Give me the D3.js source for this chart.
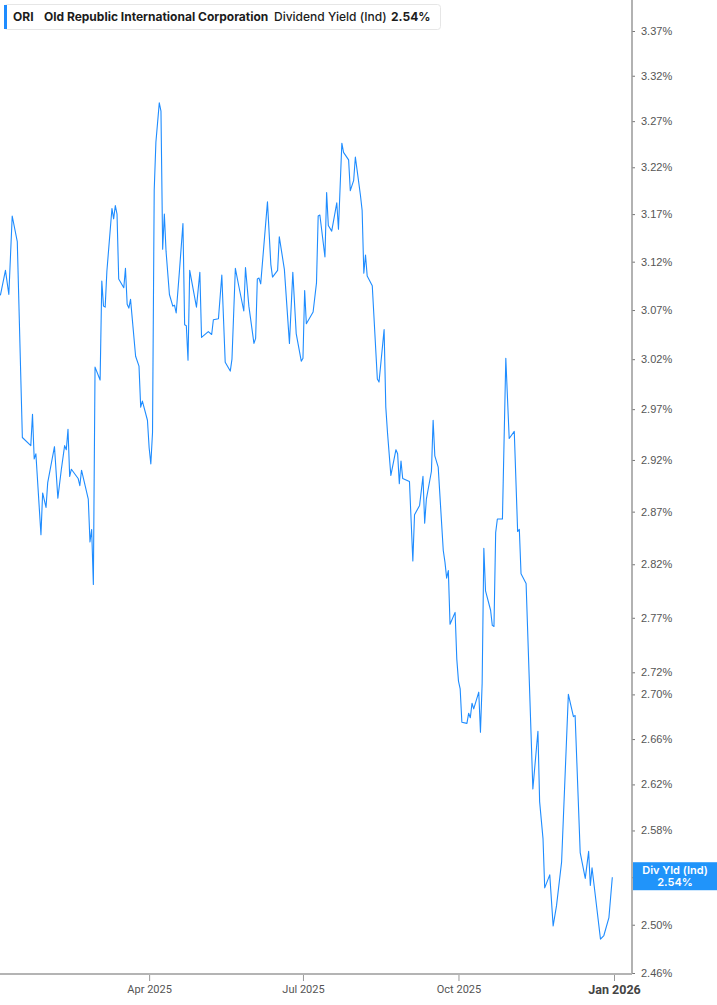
<!DOCTYPE html>
<html>
<head>
<meta charset="utf-8">
<script src="https://cdn.jsdelivr.net/npm/d3@7"></script>
<style>
  body { margin: 0; background: #fff; }
  svg { display: block; }
</style>
</head>
<body>
<div id="chart"></div>
<script>
// Dividend yield readings (trading-day turning points)
const dates = [
  "2025-01-03","2025-01-06","2025-01-08","2025-01-10","2025-01-13","2025-01-16","2025-01-21","2025-01-22","2025-01-23","2025-01-24",
  "2025-01-27","2025-01-28","2025-01-30","2025-01-31","2025-02-04","2025-02-06","2025-02-08","2025-02-10","2025-02-11","2025-02-12",
  "2025-02-13","2025-02-14","2025-02-18","2025-02-19","2025-02-20","2025-02-24","2025-02-25","2025-02-26","2025-02-27","2025-02-28",
  "2025-03-03","2025-03-04","2025-03-05","2025-03-06","2025-03-07","2025-03-10","2025-03-11","2025-03-12","2025-03-13","2025-03-14",
  "2025-03-17","2025-03-18","2025-03-19","2025-03-20","2025-03-21","2025-03-24","2025-03-26","2025-03-27","2025-03-28","2025-03-31",
  "2025-04-01","2025-04-02","2025-04-03","2025-04-04","2025-04-05","2025-04-07","2025-04-08","2025-04-09","2025-04-10","2025-04-11",
  "2025-04-13","2025-04-15","2025-04-16","2025-04-17","2025-04-19","2025-04-21","2025-04-22","2025-04-23","2025-04-24","2025-04-25",
  "2025-04-29","2025-05-01","2025-05-02","2025-05-06","2025-05-08","2025-05-09","2025-05-12","2025-05-14","2025-05-16","2025-05-19",
  "2025-05-20","2025-05-22","2025-05-24","2025-05-27","2025-05-28","2025-05-30","2025-06-02","2025-06-03","2025-06-04","2025-06-05",
  "2025-06-06","2025-06-10","2025-06-12","2025-06-13","2025-06-16","2025-06-17","2025-06-20","2025-06-23","2025-06-25","2025-06-27",
  "2025-06-30","2025-07-01","2025-07-02","2025-07-03","2025-07-07","2025-07-09","2025-07-10","2025-07-11","2025-07-14","2025-07-15",
  "2025-07-16","2025-07-18","2025-07-21","2025-07-22","2025-07-24","2025-07-25","2025-07-28","2025-07-29","2025-07-31","2025-08-01",
  "2025-08-04","2025-08-05","2025-08-06","2025-08-07","2025-08-08","2025-08-11","2025-08-14","2025-08-15","2025-08-18","2025-08-19",
  "2025-08-20","2025-08-22","2025-08-25","2025-08-26","2025-08-27","2025-08-28","2025-08-29","2025-09-02","2025-09-04","2025-09-05",
  "2025-09-08","2025-09-10","2025-09-11","2025-09-12","2025-09-15","2025-09-16","2025-09-17","2025-09-19","2025-09-22","2025-09-23",
  "2025-09-24","2025-09-25","2025-09-26","2025-09-29","2025-09-30","2025-10-01","2025-10-02","2025-10-03","2025-10-06","2025-10-07",
  "2025-10-08","2025-10-09","2025-10-10","2025-10-13","2025-10-14","2025-10-15","2025-10-16","2025-10-17","2025-10-20","2025-10-21",
  "2025-10-22","2025-10-23","2025-10-24","2025-10-27","2025-10-29","2025-10-31","2025-11-03","2025-11-05","2025-11-06","2025-11-07",
  "2025-11-10","2025-11-14","2025-11-17","2025-11-18","2025-11-20","2025-11-21","2025-11-24","2025-11-26","2025-11-28","2025-12-01",
  "2025-12-05","2025-12-08","2025-12-09","2025-12-12","2025-12-15","2025-12-17","2025-12-18","2025-12-19","2025-12-24","2025-12-26",
  "2025-12-29","2025-12-31"
];

const values = [
  3.085,3.111,3.086,3.168,3.141,2.942,2.934,2.965,2.921,2.926,
  2.848,2.888,2.874,2.898,2.933,2.883,2.910,2.934,2.930,2.950,
  2.904,2.911,2.902,2.895,2.910,2.882,2.841,2.853,2.801,3.012,
  2.999,3.100,3.074,3.073,3.110,3.176,3.165,3.179,3.170,3.102,
  3.093,3.113,3.076,3.072,3.081,3.023,3.013,2.972,2.978,2.959,
  2.932,2.916,2.947,3.195,3.247,3.290,3.281,3.133,3.170,3.131,
  3.086,3.074,3.075,3.067,3.112,3.160,3.055,3.054,3.019,3.111,
  3.073,3.109,3.042,3.048,3.045,3.060,3.061,3.106,3.017,3.008,
  3.020,3.113,3.095,3.069,3.114,3.074,3.036,3.041,3.102,3.103,
  3.097,3.183,3.117,3.104,3.111,3.146,3.112,3.036,3.109,3.046,
  3.018,3.021,3.090,3.056,3.068,3.098,3.168,3.169,3.125,3.193,
  3.158,3.152,3.182,3.154,3.246,3.236,3.228,3.195,3.206,3.231,
  3.190,3.174,3.108,3.127,3.105,3.095,3.000,2.997,3.050,2.972,
  2.947,2.905,2.930,2.926,2.897,2.919,2.902,2.899,2.823,2.867,
  2.876,2.904,2.859,2.882,2.909,2.959,2.924,2.913,2.833,2.822,
  2.807,2.814,2.764,2.775,2.732,2.712,2.705,2.675,2.674,2.683,
  2.679,2.692,2.687,2.702,2.666,2.710,2.835,2.795,2.777,2.763,
  2.762,2.850,2.863,2.863,3.021,2.941,2.948,2.851,2.853,2.811,
  2.802,2.616,2.667,2.605,2.573,2.531,2.542,2.499,2.516,2.553,
  2.700,2.680,2.681,2.561,2.539,2.562,2.533,2.548,2.488,2.491,
  2.506,2.540
];

const yTicks = [3.37, 3.32, 3.27, 3.22, 3.17, 3.12, 3.07, 3.02, 2.97, 2.92, 2.87,
                2.82, 2.77, 2.72, 2.70, 2.66, 2.62, 2.58, 2.54, 2.50, 2.46];
const xTickDates = ["2025-04-01", "2025-07-01", "2025-10-01", "2026-01-01"];
const xTickLabels = ["Apr 2025", "Jul 2025", "Oct 2025", "Jan 2026"];

const ticker = "ORI";
const company = "Old Republic International Corporation";
const metric = "Dividend Yield (Ind)";
const lastLabel = "Div Yld (Ind)";

const width = 717, height = 1005;
const axisX = 632, axisY = 974;
const blue = "#1e8cff";

const parse = d3.timeParse("%Y-%m-%d");
const data = dates.map((d, i) => ({ date: parse(d), value: values[i] }));
const last = data[data.length - 1];

const svg = d3.select("#chart").append("svg")
    .attr("width", width)
    .attr("height", height);

const x = d3.scaleTime()
    .domain([new Date(2025, 0, 1), new Date(2026, 0, 1)])
    .range([-3, 614]);

const y = d3.scaleLog()
    .domain([2.46, 3.37])
    .range([973, 31]);

// line
const line = d3.line()
    .x(d => x(d.date))
    .y(d => y(d.value));

svg.append("path")
    .datum(data)
    .attr("fill", "none")
    .attr("stroke", blue)
    .attr("stroke-width", 1.1)
    .attr("stroke-linejoin", "round")
    .attr("d", line);

// y axis on the right
const yAxis = svg.append("g")
    .attr("transform", `translate(${axisX},0)`)
    .call(d3.axisRight(y)
        .tickValues(yTicks)
        .tickSize(3)
        .tickPadding(6)
        .tickFormat(d => d.toFixed(2) + "%"));
yAxis.select(".domain").remove();
yAxis.selectAll(".tick line").attr("stroke", "#777");
yAxis.selectAll(".tick text")
    .attr("fill", "#555")
    .style("font-family", "'Liberation Sans', Arial, sans-serif")
    .style("font-size", "11px");
// the tick under the last-value tag is covered in the original
yAxis.selectAll(".tick text")
    .filter(d => Math.abs(d - last.value) < 0.005)
    .remove();

svg.append("line")
    .attr("x1", axisX).attr("x2", axisX)
    .attr("y1", 0).attr("y2", axisY)
    .attr("stroke", "#999")
    .attr("stroke-width", 1.5);

// x axis
const xAxis = svg.append("g")
    .attr("transform", `translate(0,${axisY})`)
    .call(d3.axisBottom(x)
        .tickValues(xTickDates.map(parse))
        .tickSize(7)
        .tickPadding(4)
        .tickFormat((d, i) => xTickLabels[i]));
xAxis.select(".domain").remove();
xAxis.selectAll(".tick line").attr("stroke", "#999");
xAxis.selectAll(".tick text")
    .attr("fill", "#555")
    .style("font-family", "Roboto, 'Liberation Sans', sans-serif")
    .style("font-size", "11px");
xAxis.selectAll(".tick text")
    .filter((d, i) => i === xTickLabels.length - 1)
    .attr("fill", "#444")
    .style("font-weight", "bold")
    .style("font-size", "12.5px");

svg.append("line")
    .attr("x1", 0).attr("x2", axisX)
    .attr("y1", axisY).attr("y2", axisY)
    .attr("stroke", "#b4b4b4")
    .attr("stroke-width", 2);

// last value tag
const ly = y(last.value);
svg.append("rect")
    .attr("x", axisX + 1)
    .attr("y", ly - 15)
    .attr("width", width - axisX - 1)
    .attr("height", 28)
    .attr("fill", "#2094fa");
const tag = svg.append("text")
    .attr("text-anchor", "middle")
    .attr("fill", "#fff")
    .style("font-family", "Inter, 'Liberation Sans', sans-serif")
    .style("font-size", "11px")
    .style("font-weight", "600");
tag.append("tspan").attr("x", 675).attr("y", ly - 3).text(lastLabel);
tag.append("tspan").attr("x", 675).attr("y", ly + 9).text(last.value.toFixed(2) + "%");

// legend box
const legend = svg.append("g");
legend.append("rect")
    .attr("x", 4.5).attr("y", 4.5)
    .attr("width", 436).attr("height", 25)
    .attr("rx", 3)
    .attr("fill", "#fff")
    .attr("stroke", "#e6e6e6");
legend.append("rect")
    .attr("x", 4).attr("y", 5)
    .attr("width", 3).attr("height", 24)
    .attr("fill", blue);

const legendFont = "Inter, 'Liberation Sans', sans-serif";
const legendItems = [
    { text: ticker, x: 13, weight: "700" },
    { text: company, x: 44, weight: "700" },
    { text: metric, x: 274, weight: "500" },
    { text: last.value.toFixed(2) + "%", x: 391, weight: "700" }
];
legend.selectAll("text.item")
    .data(legendItems)
    .join("text")
    .attr("class", "item")
    .attr("x", d => d.x)
    .attr("y", 21)
    .attr("fill", "#1c1c1c")
    .style("font-family", legendFont)
    .style("font-size", "12px")
    .style("font-weight", d => d.weight)
    .text(d => d.text);
</script>
</body>
</html>
